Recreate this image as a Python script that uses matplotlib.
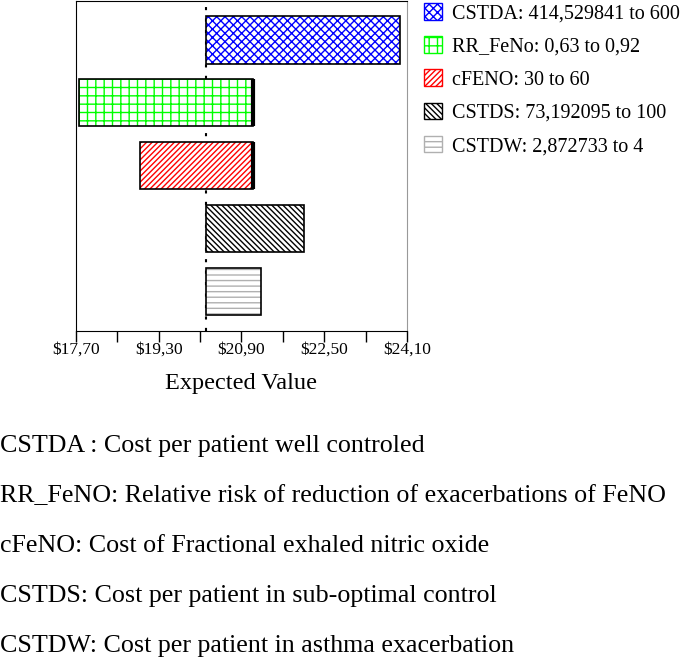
import matplotlib
matplotlib.use("Agg")
import matplotlib.pyplot as plt
from matplotlib.patches import Patch

plt.rcParams['font.family'] = ['Liberation Serif', 'DejaVu Serif']
plt.rcParams['hatch.linewidth'] = 1.0

params = ['CSTDA', 'RR_FeNo', 'cFENO', 'CSTDS', 'CSTDW']
legend_labels = ['CSTDA: 414,529841 to 600', 'RR_FeNo: 0,63 to 0,92',
                 'cFENO: 30 to 60', 'CSTDS: 73,192095 to 100', 'CSTDW: 2,872733 to 4']
base_value = 20.21
bar_left = [20.21, 17.76, 18.94, 20.21, 20.21]
bar_right = [23.97, 21.12, 21.12, 22.11, 21.28]
thick_right = [False, True, True, False, False]
hatch_colors = ['#0000ff', '#00ff00', '#ff0000', '#000000', '#b0b0b0']
hatches = ['xxxx', '++', '//////', '\\\\\\\\\\\\', '---']
tick_values = [17.70, 18.50, 19.30, 20.10, 20.90, 21.70, 22.50, 23.30, 24.10]
tick_labels = ['$17,70', '', '$19,30', '', '$20,90', '', '$22,50', '', '$24,10']
notes = ['CSTDA : Cost per patient well controled',
         'RR_FeNO: Relative risk of reduction of exacerbations of FeNO',
         'cFeNO: Cost of Fractional exhaled nitric oxide',
         'CSTDS: Cost per patient in sub-optimal control',
         'CSTDW: Cost per patient in asthma exacerbation']

fig = plt.figure(figsize=(6.85, 6.6), dpi=100)
ax = fig.add_axes([0.111, 0.4985, 0.483, 0.5])

ypos = list(range(len(params)))
height = 0.75
for i in ypos:
    w = bar_right[i] - bar_left[i]
    ax.barh(i, w, left=bar_left[i], height=height, color='white',
            edgecolor=hatch_colors[i], hatch=hatches[i], linewidth=0, zorder=2)
    ax.barh(i, w, left=bar_left[i], height=height, fill=False,
            edgecolor='black', linewidth=1.2, zorder=3)
    if thick_right[i]:
        ax.vlines(bar_right[i], i - height / 2, i + height / 2, color='black',
                  linewidth=3, zorder=4)

ax.axvline(base_value, color='black', linestyle=(0, (1.5, 4)), linewidth=1.5, zorder=1)

ax.set_xlim(17.70, 24.10)
ax.set_ylim(4.63, -0.62)
ax.set_yticks([])
ax.set_xticks(tick_values)
ax.set_xticklabels(tick_labels, fontsize=12.5)
ax.tick_params(axis='x', direction='out', length=8, width=1, pad=0)
ax.set_xlabel('Expected Value', fontsize=17.5, labelpad=11)
for s in ['top', 'left', 'bottom']:
    ax.spines[s].set_color('black')
ax.spines['right'].set_color('#999999')

handles = [Patch(facecolor='white', edgecolor=hatch_colors[i], hatch=hatches[i])
           for i in ypos]
fig.legend(handles, legend_labels, loc='upper left', bbox_to_anchor=(0.618, 0.997),
           frameon=False, fontsize=14.5, handlelength=0.9, handleheight=0.9,
           handletextpad=0.45, labelspacing=0.64, borderaxespad=0, borderpad=0.05)

for k, t in enumerate(notes):
    fig.text(0.0, 1 - (446 + 50 * k) / 660, t, fontsize=18.7, va='center', ha='left')

fig.savefig('out.png', dpi=100)
